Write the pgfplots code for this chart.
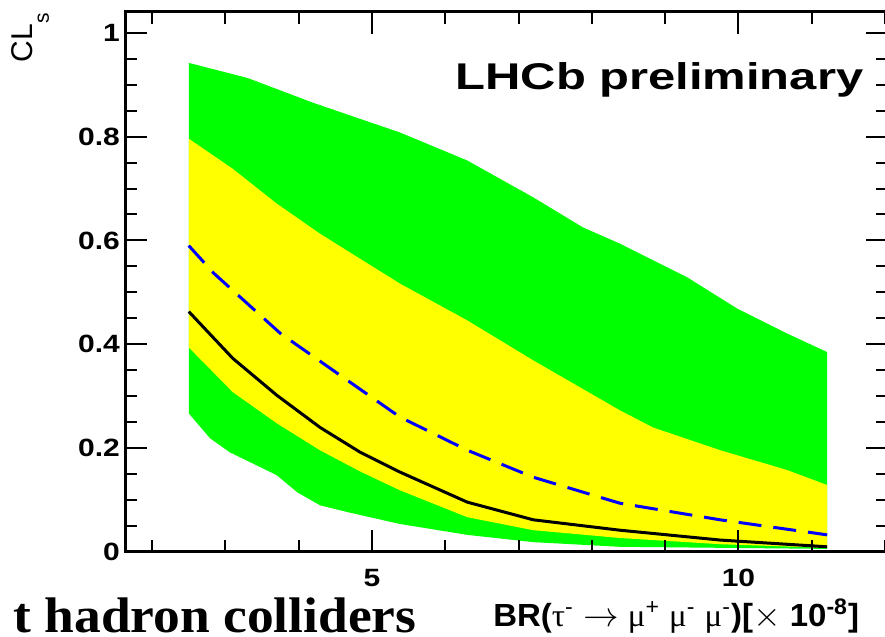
\documentclass[border=0pt]{standalone}
\usepackage{pgfplots}
\pgfplotsset{compat=1.18}
\usepackage{fontspec}
\setmainfont{Liberation Sans}
\newfontfamily\timesbf{Liberation Serif}
\definecolor{rgreen}{RGB}{0,255,0}
\definecolor{ryellow}{RGB}{255,255,0}
\definecolor{rblue}{RGB}{0,0,255}
\begin{document}
\begin{tikzpicture}
\useasboundingbox (0,0) rectangle (442.5pt,318.5pt);
\clip (0,0) rectangle (442.5pt,318.5pt);
\begin{axis}[
  at={(62.5pt,42.5pt)}, anchor=south west,
  scale only axis, width=381.5pt, height=270pt,
  xmin=1.63, xmax=12.04, ymin=0, ymax=1.04,
  axis on top,
  axis line style={line width=1.5pt},
  xtick={5,10},
  xticklabels={\scalebox{1.2}[1]{5},\scalebox{1.2}[1]{10}},
  minor xtick={2,3,4,6,7,8,9,11,12},
  ytick={0,0.2,0.4,0.6,0.8,1},
  yticklabels={\scalebox{1.2}[1]{0},\scalebox{1.2}[1]{0.2},\scalebox{1.2}[1]{0.4},\scalebox{1.2}[1]{0.6},\scalebox{1.2}[1]{0.8},\scalebox{1.2}[1]{1}},
  minor ytick={0.05,0.1,0.15,0.25,0.3,0.35,0.45,0.5,0.55,0.65,0.7,0.75,0.85,0.9,0.95},
  tick align=inside,
  major tick length=11pt, minor tick length=6pt,
  every tick/.style={black, line width=1pt},
  tick label style={font=\fontsize{12.5pt}{14pt}\selectfont\bfseries},
  xticklabel style={yshift=-5pt},
  yticklabel style={xshift=1pt},
]
% 2 sigma band
\addplot[draw=none, fill=rgreen] coordinates {
 (2.5,0.942) (3.3,0.913) (4.2,0.865) (5.38,0.808) (6.3,0.754) (7.2,0.683)
 (7.88,0.625) (8.38,0.594) (9.3,0.529) (9.98,0.469) (10.66,0.421) (11.21,0.385)
 (11.21,0.006) (8.38,0.010) (7.2,0.019) (6.3,0.033) (5.38,0.054) (4.66,0.077)
 (4.29,0.090) (3.98,0.115) (3.70,0.148) (3.06,0.192) (2.79,0.219) (2.5,0.267)
} -- cycle;
% 1 sigma band
\addplot[draw=none, fill=ryellow] coordinates {
 (2.5,0.796) (3.10,0.738) (3.70,0.671) (4.29,0.613) (5.38,0.517) (6.30,0.446)
 (7.20,0.369) (8.38,0.273) (8.83,0.240) (9.75,0.196) (10.66,0.158) (11.21,0.129)
 (11.21,0.008) (9.75,0.015) (8.38,0.027) (7.2,0.042) (6.3,0.067) (5.38,0.119)
 (4.84,0.155) (4.29,0.196) (3.70,0.248) (3.10,0.308) (2.5,0.394)
} -- cycle;
% expected
\addplot[rblue, line width=1.5pt, dash pattern=on 11.5pt off 6pt] coordinates {
 (2.5,0.59) (2.84,0.537) (3.75,0.421) (4.66,0.331) (5.38,0.26) (6.3,0.196)
 (7.2,0.144) (8.38,0.094) (9.75,0.062) (11.21,0.033)
};
% observed
\addplot[black, line width=1.5pt] coordinates {
 (2.5,0.463) (3.10,0.373) (3.70,0.302) (4.29,0.240) (4.84,0.192) (5.38,0.154)
 (6.30,0.096) (7.20,0.062) (8.38,0.042) (9.75,0.023) (11.21,0.010)
};
\end{axis}
\begin{scope}[shift={(0,318.5pt)}, x=0.5pt, y=-0.5pt]
\node[anchor=base west, inner sep=0] at (455,90)
  {\fontsize{18.6pt}{20pt}\selectfont\bfseries\scalebox{1.316}[1]{LHCb preliminary}};
\node[rotate=90, anchor=base east, inner sep=0] at (33,13)
  {\fontsize{15pt}{17pt}\selectfont CL\raisebox{-8pt}{\fontsize{10.5pt}{12pt}\selectfont s}};
\node[anchor=base west, inner sep=0] at (493,627)
  {\fontsize{16pt}{18pt}\selectfont\scalebox{1.03}[1]{\textbf{BR(}{\timesbf τ}\textsuperscript{-} $\rightarrow$ {\timesbf μ}\textsuperscript{+} {\timesbf μ}\textsuperscript{-} {\timesbf μ}\textsuperscript{-}\textbf{)[}$\times$ \textbf{10\textsuperscript{-8}]}}};
\node[anchor=base east, inner sep=0] at (417,633)
  {\timesbf\bfseries\fontsize{25pt}{27pt}\selectfont\scalebox{1.07}[1]{t hadron colliders}};
\end{scope}
\end{tikzpicture}
\end{document}
